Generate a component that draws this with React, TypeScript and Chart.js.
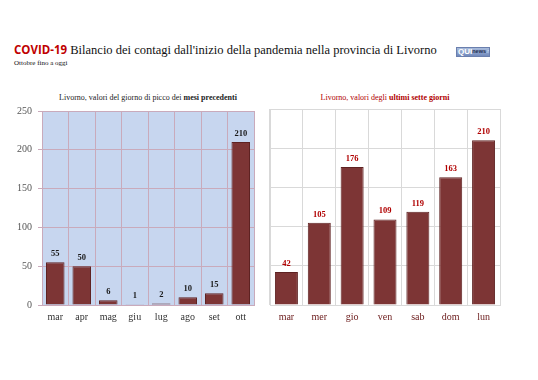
import React, { useEffect, useRef } from "react";
import { Chart, registerables } from "chart.js";

Chart.register(...registerables);

const monthLabels = ["mar", "apr", "mag", "giu", "lug", "ago", "set", "ott"];
const monthValues = [55, 50, 6, 1, 2, 10, 15, 210];
const dayLabels = ["mar", "mer", "gio", "ven", "sab", "dom", "lun"];
const dayValues = [42, 105, 176, 109, 119, 163, 210];
const yTicks = [0, 50, 100, 150, 200, 250];

const SERIF = "'Liberation Serif', 'DejaVu Serif', serif";
const BAR = "#7d3535";
const BAR_BORDER = "#5e2222";

function makeLabelPlugin(color: string) {
  return {
    id: "valueLabels",
    afterDatasetsDraw(chart: any) {
      const ctx = chart.ctx;
      const meta = chart.getDatasetMeta(0);
      const data = chart.data.datasets[0].data;
      ctx.save();
      ctx.font = `bold 8.5px ${SERIF}`;
      ctx.fillStyle = color;
      ctx.textAlign = "center";
      ctx.textBaseline = "bottom";
      meta.data.forEach((el: any, i: number) => {
        ctx.fillText(String(data[i]), el.x, el.y - 4);
      });
      ctx.restore();
    },
  };
}

const bgPlugin = (color: string) => ({
  id: "plotBg",
  beforeDraw(chart: any) {
    if (!color) return;
    const { ctx, chartArea } = chart;
    ctx.save();
    ctx.fillStyle = color;
    ctx.fillRect(chartArea.left, chartArea.top, chartArea.right - chartArea.left, chartArea.bottom - chartArea.top);
    ctx.restore();
  },
});

function BarChart(props: {
  labels: string[];
  values: number[];
  showY: boolean;
  gridColor: string;
  bg: string;
  tickColor: string;
  labelColor: string;
  padding: any;
  yWidth: number;
}) {
  const ref = useRef<HTMLCanvasElement>(null);
  useEffect(() => {
    const chart = new Chart(ref.current!, {
      type: "bar",
      data: {
        labels: props.labels,
        datasets: [
          {
            data: props.values,
            backgroundColor: BAR,
            borderColor: BAR_BORDER,
            borderWidth: 1,
            barPercentage: 0.7,
            categoryPercentage: 1,
          },
        ],
      },
      options: {
        animation: false,
        responsive: false,
        maintainAspectRatio: false,
        layout: { padding: props.padding },
        plugins: { legend: { display: false }, tooltip: { enabled: false }, title: { display: false } },
        scales: {
          x: {
            grid: { color: props.gridColor, offset: true, drawTicks: false },
            border: { color: props.gridColor },
            ticks: { color: props.tickColor, font: { family: SERIF, size: 10 }, padding: 6 },
            afterFit: (s: any) => {
              s.height = 25;
            },
          },
          y: {
            min: 0,
            max: 250,
            afterBuildTicks: (s: any) => {
              s.ticks = yTicks.map((v) => ({ value: v }));
            },
            grid: { color: props.gridColor, drawTicks: props.showY, tickLength: 4 },
            border: { color: props.gridColor },
            ticks: {
              display: props.showY,
              color: "#555555",
              font: { family: SERIF, size: 10 },
              padding: 6,
            },
            afterFit: (s: any) => {
              s.width = props.yWidth;
            },
          },
        },
      },
      plugins: [bgPlugin(props.bg), makeLabelPlugin(props.labelColor)],
    } as any);
    return () => chart.destroy();
  }, []);
  return <canvas ref={ref} width={props.showY ? 262 : 276} height={235} />;
}

export default function App() {
  return (
    <div style={{ position: "fixed", left: 0, top: 0, width: 538, height: 380, background: "#fff", overflow: "hidden" }}>
      <div style={{ position: "absolute", left: 14, top: 42, whiteSpace: "nowrap", fontFamily: SERIF, fontSize: 12.5, color: "#111" }}>
        <span style={{ fontFamily: "'Open Sans', sans-serif", fontWeight: 700, color: "#c00000", fontSize: 11.5 }}>COVID-19</span>{" "}
        Bilancio dei contagi dall'inizio della pandemia nella provincia di Livorno
      </div>
      <div style={{ position: "absolute", left: 14, top: 59, fontFamily: SERIF, fontSize: 7, color: "#111" }}>Ottobre fino a oggi</div>
      <div
        style={{
          position: "absolute",
          left: 456,
          top: 47,
          width: 34,
          height: 10,
          background: "linear-gradient(#a9bcdc, #7189bb)",
          border: "1px solid #6a7fae",
          boxSizing: "border-box",
          fontFamily: "'Liberation Sans', sans-serif",
          display: "flex",
          alignItems: "center",
          whiteSpace: "nowrap",
          paddingLeft: 1,
          overflow: "hidden",
          lineHeight: 1,
        }}
      >
        <span style={{ color: "#fff", fontWeight: 700, fontSize: 8 }}>QUI</span>
        <span style={{ color: "#1d2b4f", fontWeight: 700, fontSize: 5.5 }}>news</span>
        <span style={{ color: "#dbe4f4", fontSize: 4.5 }}>.net</span>
      </div>
      <div style={{ position: "absolute", left: 40, width: 216, top: 93, textAlign: "center", fontFamily: SERIF, fontSize: 8, color: "#222", whiteSpace: "nowrap" }}>
        Livorno, valori del giorno di picco dei <b>mesi precedenti</b>
      </div>
      <div style={{ position: "absolute", left: 270, width: 230, top: 93, textAlign: "center", fontFamily: SERIF, fontSize: 8, color: "#b00000", whiteSpace: "nowrap" }}>
        Livorno, valori degli <b>ultimi sette giorni</b>
      </div>
      <div style={{ position: "absolute", left: 0, top: 95 }}>
        <BarChart
          labels={monthLabels}
          values={monthValues}
          showY={true}
          gridColor="#c9aabb"
          bg="#c7d6ef"
          tickColor="#333333"
          labelColor="#1a1a1a"
          padding={{ top: 16, right: 8, left: 0, bottom: 0 }}
          yWidth={42}
        />
      </div>
      <div style={{ position: "absolute", left: 262, top: 95 }}>
        <BarChart
          labels={dayLabels}
          values={dayValues}
          showY={false}
          gridColor="#d9d9d9"
          bg=""
          tickColor="#6b1a1a"
          labelColor="#b00000"
          padding={{ top: 14, right: 38, left: 0, bottom: 0 }}
          yWidth={8}
        />
      </div>
    </div>
  );
}
